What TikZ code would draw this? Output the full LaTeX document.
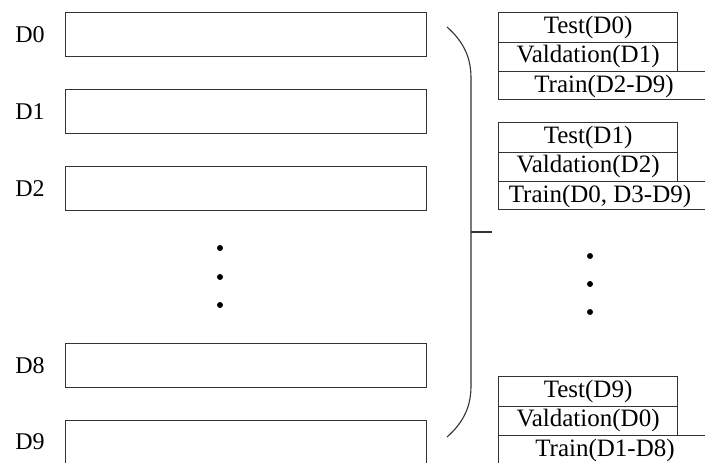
\documentclass[tikz,border=0pt]{standalone}
\usepackage{fontspec}
\setmainfont{Liberation Serif}
\begin{document}
\begin{tikzpicture}[x=1pt,y=-1pt,
  ln/.style={line width=1.1pt,draw=black!80},
  dbox/.style={ln,rectangle,anchor=north west,minimum width=361pt,minimum height=44pt,inner sep=0pt},
  lab/.style={font=\fontsize{24}{24}\selectfont,inner sep=0pt},
  row/.style={ln,rectangle,anchor=north west,minimum width=179pt,minimum height=29.5pt,inner sep=0pt,font=\fontsize{25}{25}\selectfont},
  trow/.style={ln,rectangle,anchor=north west,minimum width=214pt,minimum height=28pt,inner sep=0pt},
  ttxt/.style={font=\fontsize{25}{25}\selectfont,inner sep=0pt},
  dot/.style={circle,fill=black,inner sep=0pt,minimum size=6pt}]
\clip (0,0) rectangle (705,463);
\fill[white] (0,0) rectangle (705,463);
% left data boxes
\node[dbox] (b0) at (65,12) {};
\node[dbox] (b1) at (65,89) {};
\node[dbox] (b2) at (65,166) {};
\node[dbox] (b8) at (65,343) {};
\node[dbox] (b9) at (65,420) {};
\node[lab] (l0) at (30,35) {D0};
\node[lab] (l1) at (30,112) {D1};
\node[lab] (l2) at (30,189) {D2};
\node[lab] (l8) at (30,366) {D8};
\node[lab] (l9) at (30,442) {D9};
\node[dot] (ld1) at (220,248) {};
\node[dot] (ld2) at (220,277) {};
\node[dot] (ld3) at (220,305) {};
% bracket
\coordinate (bt) at (447,27);
\coordinate (bb) at (447,437);
\coordinate (bm) at (471,232);
\coordinate (tk) at (492,232);
\draw[ln] (bt) .. controls (464,42) and (471,58) .. (471,78) -- (471,386) .. controls (471,406) and (464,422) .. (bb);
\draw[ln] (bm) -- (tk);
% group 1
\node[row] (t1) at (498,12) {Test(D0)};
\node[row] (v1) at (498,41.5) {Valdation(D1)};
\node[trow] (r1) at (498,71) {};
\node[ttxt] (rt1) at (604,86) {Train(D2-D9)};
% group 2
\node[row] (t2) at (498,122) {Test(D1)};
\node[row] (v2) at (498,151.5) {Valdation(D2)};
\node[trow] (r2) at (498,181) {};
\node[ttxt] (rt2) at (600,196) {Train(D0, D3-D9)};
% right dots
\node[dot] (rd1) at (590,256) {};
\node[dot] (rd2) at (590,284) {};
\node[dot] (rd3) at (590,312) {};
% group 3
\node[row] (t3) at (498,376) {Test(D9)};
\node[row] (v3) at (498,405.5) {Valdation(D0)};
\node[trow] (r3) at (498,435) {};
\node[ttxt] (rt3) at (605,450) {Train(D1-D8)};
\end{tikzpicture}
\end{document}
